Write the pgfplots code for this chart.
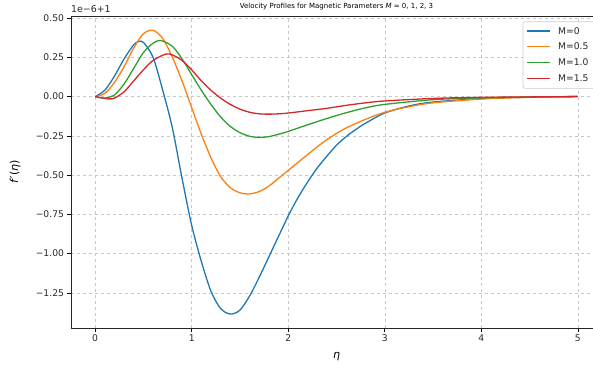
\documentclass[border=0pt]{standalone}
\usepackage{fontspec}
\setmainfont{DejaVu Sans}
\usepackage{pgfplots}
\pgfplotsset{compat=1.18}
\definecolor{c0}{HTML}{1F77B4}
\definecolor{c1}{HTML}{FF7F0E}
\definecolor{c2}{HTML}{2CA02C}
\definecolor{c3}{HTML}{D62728}
\begin{document}
\begin{tikzpicture}
\begin{axis}[
  at={(0,0)}, anchor=south west,
  scale only axis, width=531pt, height=312pt,
  xmin=-0.25, xmax=5.25, ymin=-1.474, ymax=0.513,
  clip mode=individual,
  xtick={0,1,2,3,4,5},
  ytick={-1.25,-1,-0.75,-0.5,-0.25,0,0.25,0.5},
  yticklabels={−1.25,−1.00,−0.75,−0.50,−0.25,0.00,0.25,0.50},
  /pgf/number format/assume math mode=true,
  tick label style={font=\fontsize{9.2}{10}\selectfont, text=black!85},
  tick align=outside, tick pos=left,
  major tick length=3.5pt,
  every tick/.style={black, line width=0.6pt},
  grid=major, grid style={dashed, black!22, line width=0.5pt},
  axis line style={line width=0.8pt, black!85},
  xlabel={\textit{η}}, ylabel={\textit{f}′(\textit{η})},
  label style={font=\fontsize{11}{12}\selectfont},
  xlabel style={at={(axis description cs:0.5,-0.093)}, anchor=center},
  ylabel style={at={(axis description cs:-0.1055,0.5)}, anchor=center},
  title={Velocity Profiles for Magnetic Parameters \textit{M} = 0, 1, 2, 3},
  every axis title shift=0pt,
  title style={at={(axis description cs:0.5,1.0288)}, anchor=center, inner sep=0pt, font=\fontsize{7}{8}\selectfont},
]
\addplot[color=c0, line width=1.3pt, smooth] coordinates {
(0,0) (0.1,0.04) (0.2,0.13) (0.3,0.24) (0.4,0.33) (0.45,0.35) (0.5,0.345)
(0.6,0.25) (0.7,0.04) (0.8,-0.2) (0.9,-0.52) (1.0,-0.82) (1.1,-1.05) (1.2,-1.24)
(1.3,-1.35) (1.4,-1.385) (1.5,-1.36) (1.6,-1.27) (1.7,-1.15) (1.8,-1.02)
(1.9,-0.89) (2.0,-0.76) (2.1,-0.645) (2.2,-0.545) (2.3,-0.455) (2.4,-0.38)
(2.5,-0.31) (2.6,-0.255) (2.7,-0.21) (2.8,-0.17) (3.0,-0.105) (3.25,-0.06)
(3.5,-0.035) (4.0,-0.013) (4.5,-0.004) (5,0)};
\addplot[color=c1, line width=1.3pt, smooth] coordinates {
(0,0) (0.1,0.02) (0.2,0.09) (0.3,0.19) (0.4,0.31) (0.5,0.40) (0.6,0.422)
(0.7,0.37) (0.8,0.25) (0.9,0.1) (1.0,-0.07) (1.1,-0.24) (1.2,-0.39) (1.3,-0.51)
(1.4,-0.58) (1.5,-0.613) (1.6,-0.62) (1.7,-0.605) (1.8,-0.57) (1.9,-0.52)
(2.0,-0.47) (2.1,-0.42) (2.2,-0.37) (2.3,-0.32) (2.4,-0.275) (2.5,-0.235)
(2.6,-0.2) (2.8,-0.145) (3.0,-0.1) (3.25,-0.065) (3.5,-0.04) (4.0,-0.016)
(4.5,-0.005) (5,0)};
\addplot[color=c2, line width=1.3pt, smooth] coordinates {
(0,0) (0.1,-0.01) (0.2,0.01) (0.3,0.08) (0.4,0.18) (0.5,0.28) (0.6,0.34)
(0.68,0.357) (0.8,0.32) (0.9,0.24) (1.0,0.14) (1.1,0.04) (1.2,-0.05)
(1.3,-0.13) (1.4,-0.19) (1.5,-0.23) (1.6,-0.253) (1.7,-0.26) (1.8,-0.255)
(1.9,-0.24) (2.0,-0.222) (2.2,-0.18) (2.4,-0.14) (2.6,-0.103) (2.8,-0.072)
(3.0,-0.05) (3.5,-0.02) (4.0,-0.008) (4.5,-0.003) (5,0)};
\addplot[color=c3, line width=1.3pt, smooth] coordinates {
(0,0) (0.1,-0.012) (0.15,-0.015) (0.2,-0.01) (0.3,0.03) (0.4,0.1) (0.5,0.17)
(0.6,0.23) (0.73,0.27) (0.8,0.265) (0.9,0.23) (1.0,0.17) (1.1,0.1) (1.2,0.04)
(1.3,-0.01) (1.4,-0.05) (1.5,-0.08) (1.6,-0.1) (1.7,-0.11) (1.8,-0.112)
(1.9,-0.11) (2.0,-0.105) (2.2,-0.09) (2.4,-0.075) (2.6,-0.056) (2.8,-0.04)
(3.0,-0.028) (3.5,-0.012) (4.0,-0.005) (5,0)};
\node[anchor=south west, inner sep=0pt, yshift=3pt, font=\fontsize{9.4}{10}\selectfont, text=black!85] at (rel axis cs:0,1) {1e−6+1};
\end{axis}
% legend
\draw[black!20, line width=0.6pt, rounded corners=2pt, fill=white, fill opacity=0.8] (452pt,239.7pt) rectangle (536pt,306.3pt);
\draw[c0, line width=1.3pt] (456pt,297pt) -- (479pt,297pt);
\draw[c1, line width=1.3pt] (456pt,281.8pt) -- (479pt,281.8pt);
\draw[c2, line width=1.3pt] (456pt,265.7pt) -- (479pt,265.7pt);
\draw[c3, line width=1.3pt] (456pt,249.7pt) -- (479pt,249.7pt);
\begin{scope}[every node/.style={anchor=west, inner sep=0pt, font=\fontsize{9.2}{11}\selectfont, text=black!85}]
\node at (487pt,297pt) {M=0};
\node at (487pt,281.8pt) {M=0.5};
\node at (487pt,265.7pt) {M=1.0};
\node at (487pt,249.7pt) {M=1.5};
\end{scope}
\pgfresetboundingbox
\useasboundingbox (-71pt,-37pt) rectangle (522pt,328pt);
\end{tikzpicture}
\end{document}
